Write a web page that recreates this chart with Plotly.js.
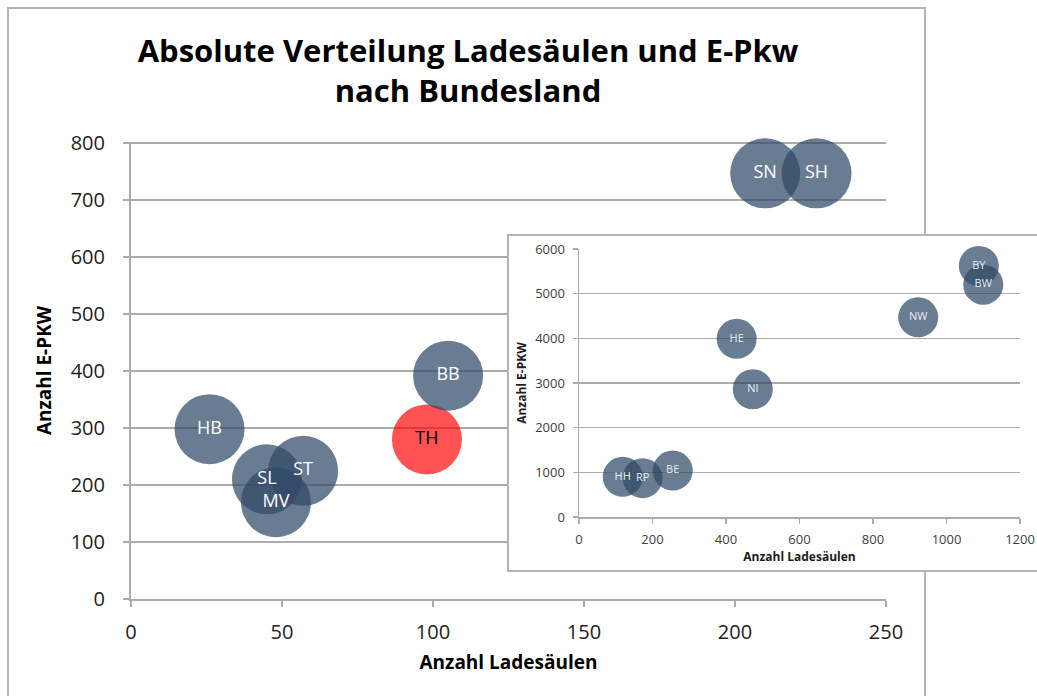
<!DOCTYPE html>
<html>
<head>
<meta charset="utf-8">
<script src="https://cdn.plot.ly/plotly-3.0.1.min.js"></script>
<style>
  html, body { margin: 0; padding: 0; overflow: hidden; background: #fff; width: 1037px; height: 696px; }
  #main { position: absolute; left: 0; top: 0; width: 1037px; height: 696px; }
  #insetBox { position: absolute; left: 507px; top: 234px; width: 540px; height: 338px;
              box-sizing: border-box; border: 2px solid #b4b4b4; background: #fff; }
  #inset { position: absolute; left: 0; top: 0; width: 536px; height: 334px; }
</style>
</head>
<body>
<div id="main"></div>
<div id="insetBox"><div id="inset"></div></div>
<script>
// ---- Data: smaller Bundesländer (main chart) ----
const mainLabels = ['HB', 'SL', 'MV', 'ST', 'TH', 'BB', 'SN', 'SH'];
const mainLadesaeulen = [26, 45, 48, 57, 98, 105, 210, 227];
const mainEPkw = [298, 210, 170, 225, 280, 392, 747, 747];
const highlighted = 'TH';

// ---- Data: larger Bundesländer (inset chart) ----
const insetLabels = ['HH', 'RP', 'BE', 'HE', 'NI', 'NW', 'BY', 'BW'];
const insetLadesaeulen = [119, 173, 255, 429, 473, 923, 1088, 1100];
const insetEPkw = [900, 870, 1040, 3990, 2860, 4470, 5620, 5200];

// ---- Texts ----
const chartTitle = 'Absolute Verteilung Ladesäulen und E-Pkw<br>nach Bundesland';
const xTitle = 'Anzahl Ladesäulen';
const yTitle = 'Anzahl E-PKW';

const FONT = 'Open Sans, Noto Sans, sans-serif';
const GRID = '#ababab';
const BLUE = 'rgba(48,73,103,0.72)';
const RED = 'rgba(255,0,0,0.68)';

const W = 1037, H = 696;

const mainTrace = {
  type: 'scatter',
  mode: 'markers+text',
  x: mainLadesaeulen,
  y: mainEPkw,
  text: mainLabels,
  textposition: 'middle center',
  textfont: { family: FONT, size: 18, color: mainLabels.map(l => l === highlighted ? '#000' : '#fff') },
  marker: { size: 70, color: mainLabels.map(l => l === highlighted ? RED : BLUE), line: { width: 0 } },
  hoverinfo: 'x+y+text',
  showlegend: false,
  cliponaxis: false
};

const mainLayout = {
  width: W, height: H,
  margin: { l: 0, r: 0, t: 0, b: 0 },
  paper_bgcolor: '#fff', plot_bgcolor: 'rgba(0,0,0,0)',
  showlegend: false,
  title: {
    text: chartTitle,
    font: { family: FONT, size: 31, weight: 700, color: '#000' },
    x: 468 / W, xanchor: 'center', xref: 'paper',
    y: 1 - 62 / H, yanchor: 'middle', yref: 'container'
  },
  xaxis: {
    domain: [131 / W, 886 / W],
    range: [0, 250], dtick: 50, tick0: 0,
    showgrid: false, zeroline: false,
    showline: true, linecolor: GRID, linewidth: 2,
    ticks: 'outside', ticklen: 6, tickwidth: 2, tickcolor: GRID,
    tickfont: { family: FONT, size: 20, color: '#222' },
    ticklabelstandoff: 8,
    title: { text: xTitle, font: { family: FONT, size: 19, weight: 700, color: '#000' }, standoff: 12 },
    fixedrange: true
  },
  yaxis: {
    domain: [1 - 599 / H, 1 - 142 / H],
    range: [0, 802], tickvals: [0, 100, 200, 300, 400, 500, 600, 700, 800],
    showgrid: true, gridcolor: GRID, gridwidth: 2, zeroline: false,
    showline: true, linecolor: GRID, linewidth: 2,
    ticks: 'outside', ticklen: 6, tickwidth: 2, tickcolor: GRID,
    tickfont: { family: FONT, size: 20, color: '#222' },
    ticklabelstandoff: 14,
    title: { text: yTitle, font: { family: FONT, size: 19, weight: 700, color: '#000' }, standoff: 14 },
    fixedrange: true
  },
  shapes: [
    { type: 'rect', xref: 'paper', yref: 'paper',
      x0: 8 / W, x1: 925 / W, y0: -0.05, y1: 1 - 8 / H,
      line: { color: '#b4b4b4', width: 2 }, fillcolor: 'rgba(0,0,0,0)', layer: 'below' }
  ]
};

const IW = 536, IH = 334;
const insetTrace = {
  type: 'scatter',
  mode: 'markers+text',
  x: insetLadesaeulen,
  y: insetEPkw,
  text: insetLabels,
  textposition: 'middle center',
  textfont: { family: FONT, size: 11, color: '#e8edf2' },
  marker: { size: 40, color: BLUE, line: { width: 0 } },
  hoverinfo: 'x+y+text',
  showlegend: false,
  cliponaxis: false
};

const insetLayout = {
  width: IW, height: IH,
  margin: { l: 70, r: 25, t: 13, b: 53 },
  paper_bgcolor: '#fff', plot_bgcolor: '#fff',
  showlegend: false,
  xaxis: {
    range: [0, 1200], dtick: 200, tick0: 0,
    showgrid: false, zeroline: false,
    showline: true, linecolor: GRID, linewidth: 1.5,
    ticks: 'outside', ticklen: 5, tickwidth: 1.5, tickcolor: GRID,
    tickfont: { family: FONT, size: 13, color: '#404040' },
    ticklabelstandoff: 5,
    title: { text: xTitle, font: { family: FONT, size: 12, weight: 700, color: '#202020' }, standoff: 5 },
    fixedrange: true
  },
  yaxis: {
    range: [0, 6000], dtick: 1000, tick0: 0,
    showgrid: true, gridcolor: GRID, gridwidth: 1.5, zeroline: false,
    showline: true, linecolor: GRID, linewidth: 1.5,
    ticks: 'outside', ticklen: 5, tickwidth: 1.5, tickcolor: GRID,
    tickfont: { family: FONT, size: 13, color: '#404040' },
    ticklabelstandoff: 5,
    title: { text: yTitle, font: { family: FONT, size: 12, weight: 700, color: '#202020' }, standoff: 6 },
    fixedrange: true
  }
};

const cfg = { displayModeBar: false, staticPlot: true };
Plotly.newPlot('main', [mainTrace], mainLayout, cfg);
Plotly.newPlot('inset', [insetTrace], insetLayout, cfg);
</script>
</body>
</html>
